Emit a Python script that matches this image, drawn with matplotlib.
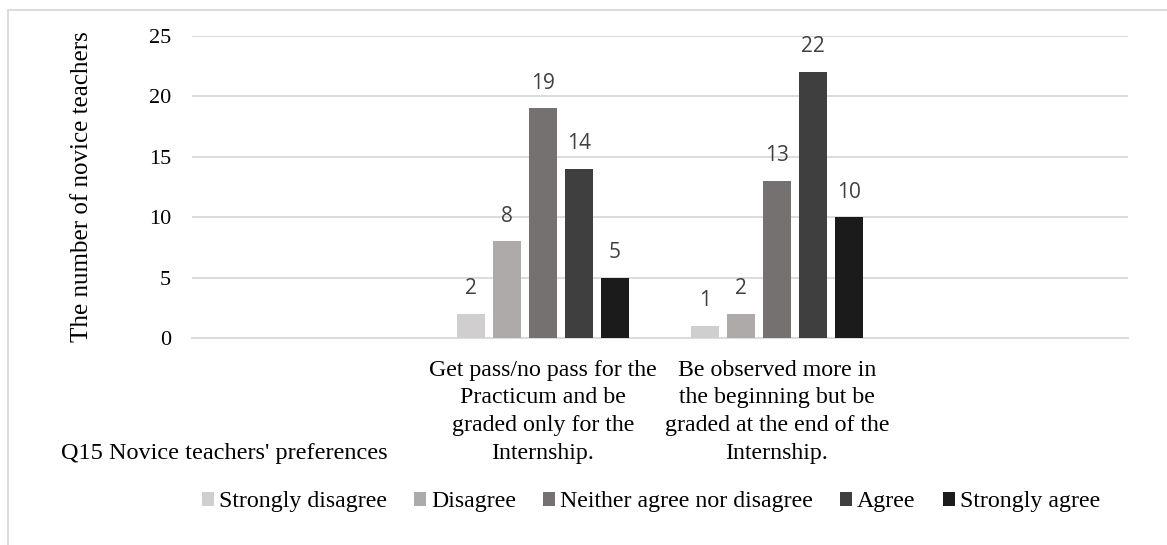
import numpy as np
import matplotlib.pyplot as plt
from matplotlib.patches import Rectangle

categories = ["", "Get pass/no pass for the\nPracticum and be\ngraded only for the\nInternship.",
              "Be observed more in\nthe beginning but be\ngraded at the end of the\nInternship.", ""]
responses = ["Strongly disagree", "Disagree", "Neither agree nor disagree", "Agree", "Strongly agree"]
counts = {
    "Strongly disagree": [None, 2, 1, None],
    "Disagree": [None, 8, 2, None],
    "Neither agree nor disagree": [None, 19, 13, None],
    "Agree": [None, 14, 22, None],
    "Strongly agree": [None, 5, 10, None],
}
colors = ["#d0cece", "#aeaaaa", "#767171", "#3f3f3f", "#1b1b1b"]

serif = ["Liberation Serif", "DejaVu Serif"]
fig = plt.figure(figsize=(11.67, 5.45), dpi=100)
ax = fig.add_axes([0.1645, 0.3798, 0.8021, 0.5547])

x = np.arange(len(categories))
step = 0.1538
width = 0.12
for i, name in enumerate(responses):
    xs = [x[j] + (i - 2) * step for j, v in enumerate(counts[name]) if v is not None]
    vals = [v for v in counts[name] if v is not None]
    bars = ax.bar(xs, vals, width, color=colors[i], label=name, zorder=3)
    for b, v in zip(bars, vals):
        ax.annotate(str(v), (b.get_x() + b.get_width() / 2, v), xytext=(0, 18),
                    textcoords="offset points", ha="center", va="center",
                    fontsize=15, color="#404040", family="Open Sans")

ax.set_xlim(-0.5, 3.5)
ax.set_ylim(0, 25)
ax.set_yticks(range(0, 26, 5))
ax.set_xticks(x)
ax.set_xticklabels(categories, family=serif, fontsize=17.2, linespacing=1.42)
for lab in ax.get_yticklabels():
    lab.set_family(serif)
    lab.set_fontsize(16)
ax.tick_params(axis="x", length=0, pad=15.5)
ax.tick_params(axis="y", length=0, pad=15)
ax.grid(axis="y", color="#d9d9d9", linewidth=1.3, zorder=0)
for s in ["top", "right", "left"]:
    ax.spines[s].set_visible(False)
ax.spines["bottom"].set_color("#d9d9d9")
ax.spines["bottom"].set_linewidth(1.3)

ax.set_ylabel("The number of novice teachers", family=serif, fontsize=18)
ax.yaxis.set_label_coords((93 - 192) / 936, 0.5)
fig.text(224 / 1167, 1 - 453 / 545, "Q15 Novice teachers' preferences", family=serif,
         fontsize=17.5, ha="center", va="center")

ax.legend(loc="center", bbox_to_anchor=(651 / 1167, 1 - 502 / 545), bbox_transform=fig.transFigure,
          ncol=5, frameon=False, prop={"family": serif, "size": 17.2}, handlelength=0.5,
          handleheight=0.5, handletextpad=0.2, columnspacing=1.15)

fig.patches.append(Rectangle((8 / 1167, -0.1), 1.2, 1 - 10 / 545 + 0.1, transform=fig.transFigure,
                             fill=False, edgecolor="#d9d9d9", linewidth=1.3))

fig.savefig("out.png", dpi=100, facecolor="white")
